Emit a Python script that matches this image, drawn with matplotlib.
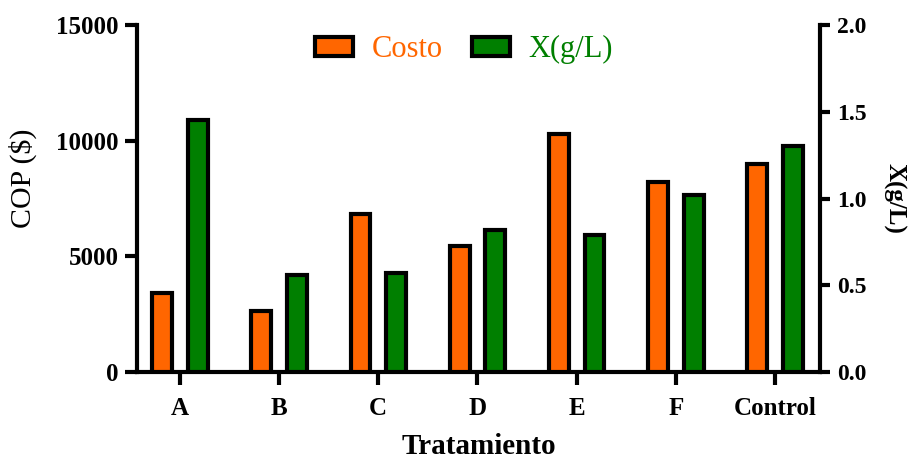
import matplotlib
matplotlib.use("Agg")
import matplotlib.pyplot as plt
import numpy as np
from matplotlib.patches import Patch

categories = ["A", "B", "C", "D", "E", "F", "Control"]
costo = [3400, 2650, 6850, 5450, 10300, 8200, 9000]
xgl = [1.45, 0.56, 0.57, 0.82, 0.79, 1.02, 1.30]
left_ticks = [0, 5000, 10000, 15000]
right_ticks = [0.0, 0.5, 1.0, 1.5, 2.0]

ORANGE = "#FF6600"
GREEN = "#007F00"
SERIF = ["Liberation Serif", "DejaVu Serif"]

plt.rcParams["font.family"] = SERIF

fig = plt.figure(figsize=(9.16, 4.61), dpi=100)
ax = fig.add_axes([137 / 916, 1 - 372 / 461, (820 - 137) / 916, (372 - 25) / 461])
ax2 = ax.twinx()

x = np.arange(len(categories))
off = 0.18
w = 0.20
lw = 3

ax.bar(x - off, costo, width=w, color=ORANGE, edgecolor="black", linewidth=lw, zorder=3)
ax2.bar(x + off, xgl, width=w, color=GREEN, edgecolor="black", linewidth=lw, zorder=3)

ax.set_xlim(-0.433, 6.454)
ax.set_ylim(0, 15000)
ax2.set_ylim(0, 2.0)

ax.set_yticks(left_ticks)
ax.set_yticklabels([str(v) for v in left_ticks])
ax2.set_yticks(right_ticks)
ax2.set_yticklabels([f"{v:.1f}" for v in right_ticks])
ax.set_xticks(x)
ax.set_xticklabels(categories)

for a in (ax, ax2):
    a.spines["top"].set_visible(False)
    for s in a.spines.values():
        s.set_linewidth(lw)
ax.spines["right"].set_visible(False)
ax2.spines["left"].set_visible(False)
ax2.spines["bottom"].set_visible(False)

ax.tick_params(axis="y", direction="out", length=9, width=lw, pad=4, labelsize=18)
ax.tick_params(axis="x", direction="out", length=9, width=lw, pad=9, labelsize=18)
ax2.tick_params(axis="y", direction="out", length=7.5, width=lw, pad=5, labelsize=17)
for lab in ax.get_xticklabels() + ax.get_yticklabels() + ax2.get_yticklabels():
    lab.set_fontweight("bold")

ax.set_ylabel("COP ($)", fontsize=21.5, fontweight="normal")
ax.yaxis.set_label_coords(-0.1464, 0.559)
ax2.set_ylabel("X(g/L)", fontsize=18, fontweight="bold", rotation=270, labelpad=20)
ax2.yaxis.set_label_coords(1.125, 0.5)
ax.set_xlabel("Tratamiento", fontsize=21, fontweight="bold", labelpad=9.5)

handles = [Patch(facecolor=ORANGE, edgecolor="black", linewidth=lw),
           Patch(facecolor=GREEN, edgecolor="black", linewidth=lw)]
leg = ax.legend(handles, ["Costo", "X(g/L)"], loc="center", bbox_to_anchor=(0.479, 0.929),
                ncol=2, frameon=False, fontsize=22, handlelength=1.23, handleheight=0.59,
                handletextpad=0.62, columnspacing=0.95)
for t, c in zip(leg.get_texts(), [ORANGE, GREEN]):
    t.set_color(c)

fig.savefig("out.png", dpi=100)
